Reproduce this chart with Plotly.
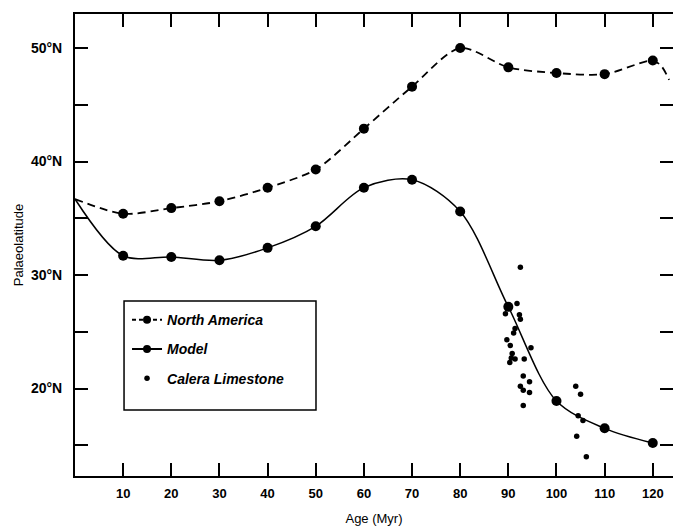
import plotly.graph_objects as go

# ---- data ----
ages = [10, 20, 30, 40, 50, 60, 70, 80, 90, 100, 110, 120]
north_america = [35.4, 35.9, 36.5, 37.7, 39.3, 42.9, 46.6, 50.0, 48.3, 47.8, 47.7, 48.9]
model = [31.7, 31.6, 31.3, 32.4, 34.3, 37.7, 38.4, 35.6, 27.2, 18.9, 16.5, 15.2]

# curve extensions beyond the plotted points
start_age = [0]
start_lat = [36.7]
na_end_age = [121.8, 123.4]
na_end_lat = [48.4, 47.2]

calera_age = [92.5, 91.8, 89.4, 92.3, 92.5, 91.4, 91.1, 89.7, 90.4, 94.7, 90.8, 90.6,
              91.4, 90.3, 93.3, 93.1, 94.4, 92.5, 93.1, 94.4, 93.1,
              104.0, 105.0, 104.5, 105.5, 104.2, 106.2]
calera_lat = [30.7, 27.5, 26.6, 26.5, 26.1, 25.3, 24.9, 24.3, 23.8, 23.6, 23.1, 22.7,
              22.6, 22.3, 22.6, 21.1, 20.6, 20.2, 19.85, 19.65, 18.5,
              20.2, 19.5, 17.6, 17.2, 15.8, 14.0]

y_tickvals = [15, 20, 25, 30, 35, 40, 45, 50]
y_ticktext = ["", "20°N", "", "30°N", "", "40°N", "", "50°N"]
x_tickvals = [10, 20, 30, 40, 50, 60, 70, 80, 90, 100, 110, 120]

BLACK = "#000000"
FONT = "Liberation Sans, Arial, sans-serif"
NA_DASH = "8px,5px"

fig = go.Figure()

# North America curve
fig.add_trace(go.Scatter(
    x=start_age + ages + na_end_age, y=start_lat + north_america + na_end_lat,
    mode="lines", line=dict(color=BLACK, width=1.8, dash=NA_DASH, shape="spline", smoothing=0.8),
    showlegend=False, hoverinfo="skip"))
fig.add_trace(go.Scatter(
    x=ages, y=north_america, mode="markers",
    marker=dict(color=BLACK, size=10), showlegend=False))

# Model curve
fig.add_trace(go.Scatter(
    x=start_age + ages, y=start_lat + model,
    mode="lines", line=dict(color=BLACK, width=1.5, shape="spline", smoothing=0.9),
    showlegend=False, hoverinfo="skip"))
fig.add_trace(go.Scatter(
    x=ages, y=model, mode="markers",
    marker=dict(color=BLACK, size=10), showlegend=False))

# Calera limestone
fig.add_trace(go.Scatter(
    x=calera_age, y=calera_lat, mode="markers",
    marker=dict(color=BLACK, size=5.5), showlegend=False))

# legend entries
fig.add_trace(go.Scatter(x=[None], y=[None], mode="lines+markers", name="North America",
                         line=dict(color=BLACK, width=1.8, dash="4px,3px"),
                         marker=dict(color=BLACK, size=8), legendgroup="a"))
fig.add_trace(go.Scatter(x=[None], y=[None], mode="lines+markers", name="Model",
                         line=dict(color=BLACK, width=2),
                         marker=dict(color=BLACK, size=8), legendgroup="b"))
fig.add_trace(go.Scatter(x=[None], y=[None], mode="markers", name="Calera Limestone",
                         marker=dict(color=BLACK, size=5.5), legendgroup="c"))

# legend box
fig.add_shape(type="rect", xref="paper", yref="paper",
              x0=0.082, x1=0.403, y0=0.143, y1=0.379,
              line=dict(color=BLACK, width=1.5), fillcolor="rgba(0,0,0,0)")

axis_common = dict(
    showline=True, linecolor=BLACK, linewidth=2, mirror="ticks",
    ticks="inside", ticklen=13, tickwidth=1.5, tickcolor=BLACK,
    showgrid=False, zeroline=False, automargin=False,
)

fig.update_xaxes(range=[0, 124.2], tickvals=x_tickvals, ticklabelstandoff=4,
                 tickfont=dict(family=FONT, size=13, color=BLACK, weight="bold"),
                 title=dict(text="Age (Myr)", font=dict(family=FONT, size=13, color=BLACK), standoff=14),
                 **axis_common)
fig.update_yaxes(range=[12.3, 53.0], tickvals=y_tickvals, ticktext=y_ticktext, ticklabelstandoff=8,
                 tickfont=dict(family=FONT, size=14, color=BLACK, weight="bold"),
                 title=dict(text="Palaeolatitude", font=dict(family=FONT, size=13, color=BLACK), standoff=4),
                 **axis_common)

fig.update_layout(
    width=673, height=521,
    margin=dict(l=67, r=8, t=6, b=53),
    plot_bgcolor="white", paper_bgcolor="white",
    font=dict(family=FONT, color=BLACK),
    legend=dict(x=0.087, y=0.372, xanchor="left", yanchor="top",
                bgcolor="rgba(0,0,0,0)", borderwidth=0,
                traceorder="grouped", tracegroupgap=8,
                font=dict(family=FONT, size=14, color=BLACK, style="italic", weight="bold")),
)

fig.write_html("out.html")
